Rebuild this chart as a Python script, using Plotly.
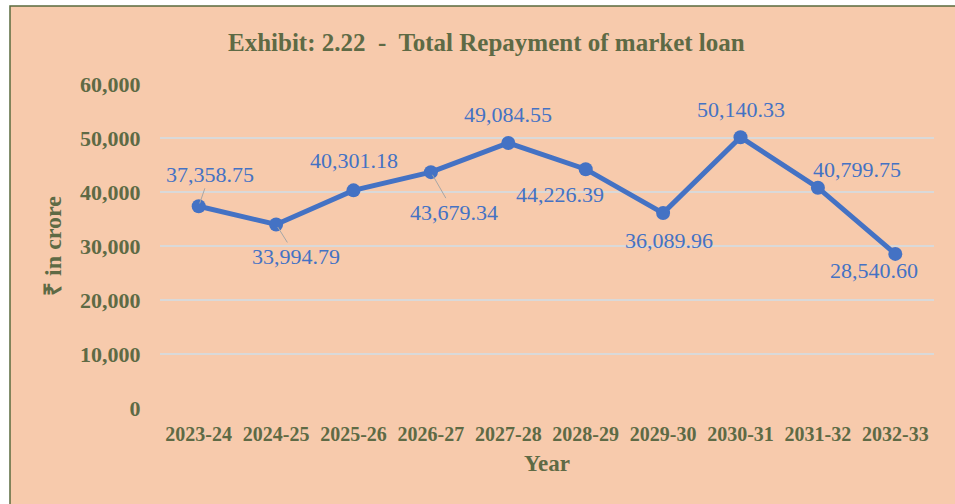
import plotly.graph_objects as go

years = ["2023-24", "2024-25", "2025-26", "2026-27", "2027-28",
         "2028-29", "2029-30", "2030-31", "2031-32", "2032-33"]
repayment = [37358.75, 33994.79, 40301.18, 43679.34, 49084.55,
             44226.39, 36089.96, 50140.33, 40799.75, 28540.60]
label_text = ["37,358.75", "33,994.79", "40,301.18", "43,679.34", "49,084.55",
              "44,226.39", "36,089.96", "50,140.33", "40,799.75", "28,540.60"]
# label offsets (pixels) and whether a leader line is drawn
label_dx = [11, 20, 0, 23, 0, -26, 6, 0, 39, -21]
label_dy = [-32, 32, -30, 40, -28, 25, 27, -28, -18, 17]
leader = [True, True, False, True, False, False, False, False, False, False]

W, H = 955, 504
L, R, T, B = 160, 21, 84, 96
pw, ph = W - L - R, H - T - B

text_col = "#5E6A45"
blue = "#4472C4"
serif = "Liberation Serif, Times New Roman, serif"

fig = go.Figure()
fig.add_trace(go.Scatter(
    x=years, y=repayment, mode="lines+markers",
    line=dict(color=blue, width=5),
    marker=dict(color=blue, size=14),
    hoverinfo="skip", showlegend=False,
))

for i in range(len(years)):
    fig.add_annotation(
        x=years[i], y=repayment[i], text=label_text[i],
        showarrow=True, ax=label_dx[i], ay=label_dy[i],
        arrowhead=0, arrowwidth=1, standoff=3,
        arrowcolor="#A6A6A6" if leader[i] else "rgba(0,0,0,0)",
        font=dict(family=serif, size=22, color=blue),
    )

def px_x(p):
    return (p - L) / pw

def px_y(p):
    return (H - B - p) / ph

# chart frame
fig.add_shape(type="rect", xref="paper", yref="paper",
              x0=px_x(10), x1=px_x(975), y0=px_y(520), y1=px_y(6),
              line=dict(color="#5B6B3E", width=1.5), fillcolor="#F7CAAC",
              layer="below")

fig.add_annotation(
    xref="paper", yref="paper", x=px_x(486), y=px_y(42),
    text="<b>Exhibit: 2.22  -  Total Repayment of market loan</b>",
    showarrow=False, xanchor="center", yanchor="middle",
    font=dict(family=serif, size=25, color=text_col),
)

fig.update_layout(
    width=W, height=H,
    margin=dict(l=L, r=R, t=T, b=B),
    paper_bgcolor="white",
    plot_bgcolor="rgba(0,0,0,0)",
    font=dict(family=serif, color=text_col),
    xaxis=dict(
        type="category", range=[-0.5, len(years) - 0.5],
        showgrid=False, showline=False, zeroline=False,
        automargin=False,
        ticks="outside", ticklen=8, tickcolor="rgba(0,0,0,0)",
        tickfont=dict(family=serif, size=20, color=text_col, weight="bold"),
        title=dict(text="<b>Year</b>", standoff=10,
                   font=dict(family=serif, size=23, color=text_col)),
    ),
    yaxis=dict(
        range=[0, 60000], dtick=10000, tickformat=",",
        showgrid=True, gridcolor="#D9D9D9", gridwidth=1.5,
        zeroline=False, showline=False, automargin=False,
        ticks="outside", ticklen=14, tickcolor="rgba(0,0,0,0)",
        tickfont=dict(family=serif, size=22, color=text_col, weight="bold"),
        title=dict(text="<b>₹ in crore</b>", standoff=11,
                   font=dict(family=serif, size=24, color=text_col)),
    ),
)

fig.write_html("out.html", config={"displayModeBar": False},
               post_script="document.body.style.margin='0';")
